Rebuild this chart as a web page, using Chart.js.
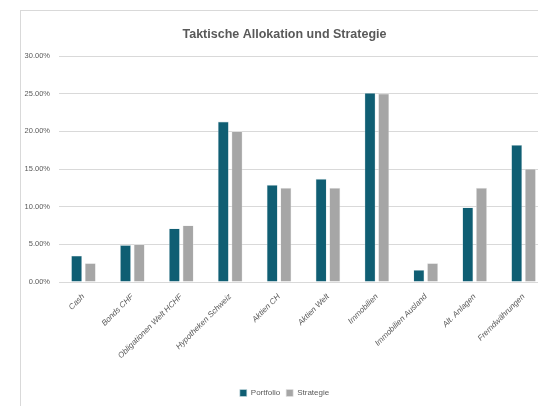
<!DOCTYPE html>
<html>
<head>
<meta charset="utf-8">
<script src="https://cdn.jsdelivr.net/npm/chart.js@4.4.1/dist/chart.umd.min.js"></script>
<style>
  html, body { margin: 0; padding: 0; background: #fff; overflow: hidden; }
  #frame {
    position: absolute; left: 20px; top: 10px;
    width: 540px; height: 400px;
    border: 1px solid #d9d9d9; box-sizing: border-box;
  }
</style>
</head>
<body>
<div id="frame"><canvas id="allocChart"></canvas></div>
<script>
// Categories and values (in percent)
const categories = ['Cash', 'Bonds CHF', 'Obligationen Welt HCHF', 'Hypotheken Schweiz', 'Aktien CH',
    'Aktien Welt', 'Immobilien', 'Immobilien Ausland', 'Alt. Anlagen', 'Fremdwährungen'];
const portfolio = [3.5, 4.9, 7.1, 21.3, 12.9, 13.7, 25.1, 1.6, 9.9, 18.2];
const strategie = [2.5, 5.0, 7.5, 20.0, 12.5, 12.5, 25.0, 2.5, 12.5, 15.0];
const yTicks = [0, 5, 10, 15, 20, 25, 30];

const fontFam = '"Liberation Sans", Arial, sans-serif';
const grey = '#595959';

const ctx = document.getElementById('allocChart').getContext('2d');
const allocChart = new Chart(ctx, {
    type: 'bar',
    data: {
        labels: categories,
        datasets: [{
            label: 'Portfolio',
            data: portfolio,
            backgroundColor: '#0f5e73',
            borderColor: '#cfdfe4',
            borderWidth: 0.6
        }, {
            label: 'Strategie',
            data: strategie,
            backgroundColor: '#a6a6a6',
            borderColor: '#e4e4e4',
            borderWidth: 0.6
        }]
    },
    options: {
        responsive: true,
        maintainAspectRatio: false,
        animation: false,
        datasets: {
            bar: { categoryPercentage: 0.56, barPercentage: 0.8 }
        },
        layout: { padding: { left: 0, right: 11, top: 0, bottom: 2 } },
        plugins: {
            title: {
                display: true,
                text: 'Taktische Allokation und Strategie',
                color: grey,
                font: { family: fontFam, size: 12.5, weight: 'bold' },
                padding: { top: 16, bottom: 14 }
            },
            legend: {
                position: 'bottom',
                labels: {
                    color: grey,
                    font: { family: fontFam, size: 8 },
                    boxWidth: 7,
                    boxHeight: 7,
                    padding: 6
                }
            },
            tooltip: { enabled: false }
        },
        scales: {
            x: {
                grid: { display: false },
                border: { color: '#d9d9d9' },
                ticks: {
                    color: grey,
                    font: { family: fontFam, size: 8, style: 'italic' },
                    minRotation: 45,
                    maxRotation: 45,
                    padding: 2
                },
                afterFit: function (scale) { scale.height = 101; }
            },
            y: {
                min: 0,
                max: 30,
                afterBuildTicks: function (scale) {
                    scale.ticks = yTicks.map(v => ({ value: v }));
                },
                grid: { color: '#d9d9d9', drawTicks: false },
                border: { display: false },
                ticks: {
                    color: grey,
                    font: { family: fontFam, size: 7.5 },
                    padding: 9,
                    callback: v => v.toFixed(2) + '%'
                },
                afterFit: function (scale) { scale.width = 38; }
            }
        }
    }
});
</script>
</body>
</html>
